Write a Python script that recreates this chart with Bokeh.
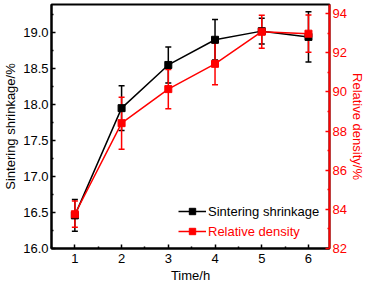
from bokeh.plotting import figure
from bokeh.models import (Range1d, LinearAxis, FixedTicker, Whisker, TeeHead,
                          ColumnDataSource, Legend, LegendItem, PrintfTickFormatter)
from bokeh.embed import file_html
from bokeh.resources import INLINE

time_h = [1, 2, 3, 4, 5, 6]
shrinkage = [16.46, 17.95, 18.55, 18.90, 19.02, 18.94]
shrinkage_err = [0.22, 0.31, 0.25, 0.28, 0.18, 0.35]
density = [83.75, 88.40, 90.14, 91.43, 93.07, 92.97]
density_err = [0.67, 1.33, 1.00, 1.07, 0.84, 0.95]
x_ticks = [1, 2, 3, 4, 5, 6]
left_ticks = [16.0, 16.5, 17.0, 17.5, 18.0, 18.5, 19.0]
right_ticks = [82, 84, 86, 88, 90, 92, 94]

FONT = "Liberation Sans"
RED = "#ff0000"

src_s = ColumnDataSource(dict(x=time_h, y=shrinkage,
                              lo=[v - e for v, e in zip(shrinkage, shrinkage_err)],
                              hi=[v + e for v, e in zip(shrinkage, shrinkage_err)]))
src_d = ColumnDataSource(dict(x=time_h, y=density,
                              lo=[v - e for v, e in zip(density, density_err)],
                              hi=[v + e for v, e in zip(density, density_err)]))

p = figure(width=368, height=286, output_backend="svg", toolbar_location=None,
           x_range=Range1d(0.5, 6.45), y_range=Range1d(16.0, 19.39),
           min_border_left=48, min_border_right=39, min_border_top=4,
           min_border_bottom=38)
p.extra_y_ranges = {"density": Range1d(82.0, 94.46)}
p.xgrid.visible = False
p.ygrid.visible = False
p.outline_line_color = "black"
p.outline_line_width = 2
p.background_fill_color = "white"
p.border_fill_color = "white"

def style_axis(ax, color, lab_standoff=3, axis_standoff=2):
    ax.axis_line_color = color
    ax.axis_line_width = 2
    ax.major_tick_line_color = color
    ax.minor_tick_line_color = color
    ax.major_tick_line_width = 1.5
    ax.minor_tick_line_width = 1.5
    ax.major_tick_in = 4
    ax.major_tick_out = 0
    ax.minor_tick_in = 2
    ax.minor_tick_out = 0
    ax.major_label_text_font = FONT
    ax.major_label_text_font_size = "13px"
    ax.major_label_text_color = color
    ax.axis_label_text_font = FONT
    ax.axis_label_text_font_size = "13px"
    ax.axis_label_text_font_style = "normal"
    ax.axis_label_text_color = color
    ax.major_label_standoff = lab_standoff
    ax.axis_label_standoff = axis_standoff

xa = p.xaxis[0]
xa.ticker = FixedTicker(ticks=x_ticks, minor_ticks=[t + 0.5 for t in [0] + x_ticks])
xa.axis_label = "Time/h"
style_axis(xa, "black", 5, 2)

ya = p.yaxis[0]
ya.ticker = FixedTicker(ticks=left_ticks,
                        minor_ticks=[t + 0.25 for t in left_ticks])
ya.formatter = PrintfTickFormatter(format="%.1f")
ya.axis_label = "Sintering shrinkage/%"
style_axis(ya, "black", 3, 2)

ra = LinearAxis(y_range_name="density", axis_label="Relative density/%",
                ticker=FixedTicker(ticks=right_ticks, minor_ticks=[t + 1 for t in right_ticks]))
style_axis(ra, RED, 3, 0)
p.add_layout(ra, "right")

# error bars
ws = Whisker(source=src_s, base="x", lower="lo", upper="hi", dimension="height",
             line_color="black", line_width=1.5,
             upper_head=TeeHead(size=6, line_color="black", line_width=1.5),
             lower_head=TeeHead(size=6, line_color="black", line_width=1.5))
p.add_layout(ws)
wd = Whisker(source=src_d, base="x", lower="lo", upper="hi", dimension="height",
             y_range_name="density", line_color=RED, line_width=1.5,
             upper_head=TeeHead(size=6, line_color=RED, line_width=1.5),
             lower_head=TeeHead(size=6, line_color=RED, line_width=1.5))
p.add_layout(wd)

l1 = p.line("x", "y", source=src_s, line_color="black", line_width=1.5)
m1 = p.scatter("x", "y", source=src_s, marker="square", size=7,
               fill_color="black", line_color="black")
l2 = p.line("x", "y", source=src_d, line_color=RED, line_width=1.5,
            y_range_name="density")
m2 = p.scatter("x", "y", source=src_d, marker="square", size=7,
               fill_color=RED, line_color=RED, y_range_name="density")

def make_legend(label, renderers, color, y):
    lg = Legend(items=[LegendItem(label=label, renderers=renderers)],
                location=(127, y), orientation="vertical",
                border_line_color=None, background_fill_alpha=0,
                padding=0, margin=0, spacing=0, glyph_width=28, glyph_height=16,
                label_height=16, label_standoff=2,
                label_text_font=FONT, label_text_font_size="13px",
                label_text_color=color)
    p.add_layout(lg, "center")

make_legend("Sintering shrinkage", [l1, m1], "black", 29)
make_legend("Relative density", [l2, m2], RED, 9)

open("out.html", "w").write(file_html(p, INLINE))
